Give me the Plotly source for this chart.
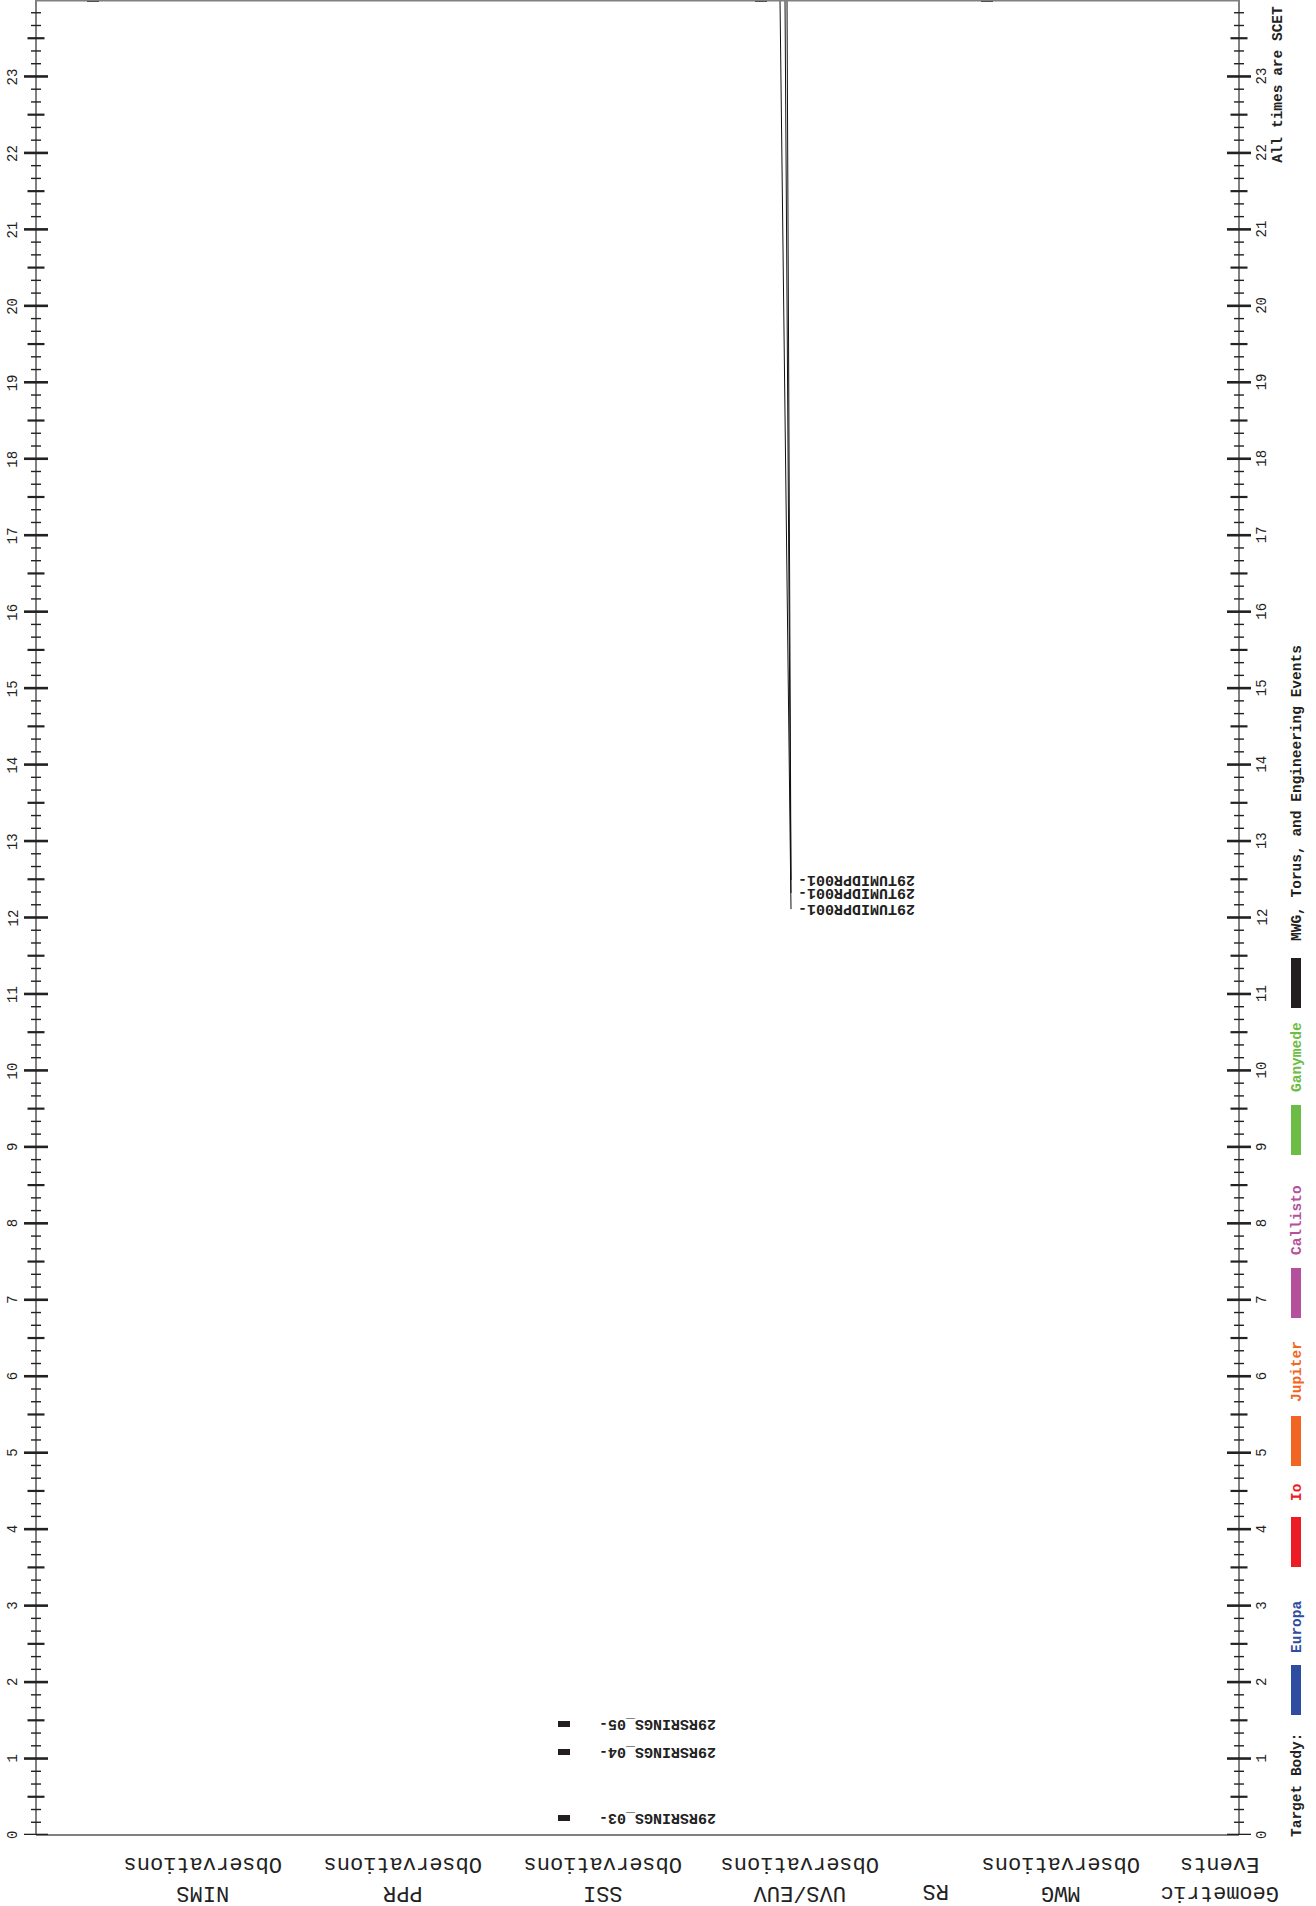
import plotly.graph_objects as go

# ---------------- data ----------------
hour_ticks = list(range(0, 24))

obs_ids = ["29RSRINGS_03", "29RSRINGS_04", "29RSRINGS_05"]
obs_lane = ["SSI", "SSI", "SSI"]
obs_start = [0.18, 1.05, 1.41]
obs_end = [0.26, 1.12, 1.49]

edge_lane = ["NIMS", "UVS/EUV", "MWG"]
edge_start = [23.98, 23.98, 23.98]
edge_end = [24.0, 24.0, 24.0]

uvs_ids = ["29TUMIDPR001", "29TUMIDPR001", "29TUMIDPR001"]
uvs_label_hour = [12.11, 12.32, 12.49]

columns = ["NIMS<br>Observations", "PPR<br>Observations", "SSI<br>Observations",
           "UVS/EUV<br>Observations", "RS", "MWG<br>Observations", "Geometric<br>Events"]

legend_names = ["Europa", "Io", "Jupiter", "Callisto", "Ganymede",
                "MWG, Torus, and Engineering Events"]
legend_colors = ["#2E4DA0", "#ED1C24", "#F26522", "#B5519C", "#6CBD45", "#231F20"]

# ---------------- layout constants (page pixels) ----------------
W, H = 1316, 1906
L, R, T, B = 36, 77, 0, 71
X0, X1 = L, W - R
PH = H - T - B
lane_x = {"NIMS": 92.5, "SSI": 564, "UVS/EUV": 761, "MWG": 987}
col_x = [203, 403, 603, 800, 936, 1061, 1220]
uvs_top_x = [780, 785, 787]
uvs_end_x = 791
legend_bar_y = [1690, 1542, 1441, 1293, 1130, 983]
legend_txt_y = [1627, 1492, 1372, 1220, 1057, 793]
FONT = "Liberation Mono, Courier New, monospace"


def px(xp):
    return (xp - X0) / (X1 - X0)


def py(yp):
    return 1 - (yp - T) / PH


fig = go.Figure()

# observation bars
bx = [lane_x[l] for l in obs_lane] + [lane_x[l] for l in edge_lane]
bs = obs_start + edge_start
be = obs_end + edge_end
fig.add_trace(go.Bar(x=bx, y=[e - s for s, e in zip(bs, be)], base=bs, width=12,
                     marker=dict(color="#231F20", line=dict(width=0)),
                     hoverinfo="skip", showlegend=False))

# UVS leader lines
for tx, hy in zip(uvs_top_x, uvs_label_hour):
    fig.add_trace(go.Scatter(x=[tx, uvs_end_x], y=[24, hy], mode="lines",
                             line=dict(color="#111", width=1), hoverinfo="skip",
                             showlegend=False))

ann = []
shapes = []

# observation labels (upside down)
for oid, l, s, e in zip(obs_ids, obs_lane, obs_start, obs_end):
    ann.append(dict(x=lane_x[l] + 33, y=(s + e) / 2, xref="x", yref="y",
                    text="<b>%s-</b>" % oid, textangle=180, showarrow=False,
                    xanchor="left", yanchor="middle",
                    font=dict(family=FONT, size=15, color="#222")))
for oid, hy in zip(uvs_ids, uvs_label_hour):
    ann.append(dict(x=uvs_end_x + 5, y=hy, xref="x", yref="y",
                    text="<b>%s-</b>" % oid, textangle=180, showarrow=False,
                    xanchor="left", yanchor="middle",
                    font=dict(family=FONT, size=15, color="#222")))

# bottom column labels
for c, cx in zip(columns, col_x):
    two = "<br>" in c
    ann.append(dict(x=px(cx), y=0, xref="paper", yref="paper", text=c,
                    textangle=180, showarrow=False, xanchor="center",
                    yanchor="middle", yshift=-43 if two else -56,
                    font=dict(family=FONT, size=22, color="#222")))

# time axis ticks + labels
for side, ax in (("L", X0), ("R", X1)):
    for h in range(0, 24):
        for k in range(6):
            t = h + k / 6
            if k == 0:
                half, w = 12, 2.6
            elif k == 3:
                half, w = 8.5, 2.2
            else:
                half, w = 5, 1.4
            shapes.append(dict(type="line", xref="paper", yref="y",
                               x0=px(ax - half), x1=px(ax + half), y0=t, y1=t,
                               line=dict(color="#222", width=w)))
    for h in hour_ticks:
        ann.append(dict(x=px(ax - 23 if side == "L" else ax + 23), y=h,
                        xref="paper", yref="y", text=str(h), textangle=-90,
                        showarrow=False, xanchor="center", yanchor="middle",
                        font=dict(family=FONT, size=14, color="#222")))

# frame lines
frame = [(X0, 0, X0, PH), (X1, 0, X1, PH), (X0, 0.5, X1, 0.5), (X0, PH, X1, PH)]
for x0, y0, x1, y1 in frame:
    shapes.insert(0, dict(type="line", xref="paper", yref="paper",
                          x0=px(x0), x1=px(x1), y0=py(y0), y1=py(y1),
                          line=dict(color="#808080", width=2)))

ann.append(dict(x=px(1278), y=22.89, xref="paper", yref="y",
                text="<b>All times are SCET</b>", textangle=-90, showarrow=False,
                xanchor="center", yanchor="middle",
                font=dict(family=FONT, size=14.5, color="#222")))

# legend
ann.append(dict(x=px(1297), y=py(1785), xref="paper", yref="paper",
                text="<b>Target Body:</b>", textangle=-90, showarrow=False,
                xanchor="center", yanchor="middle",
                font=dict(family=FONT, size=14.5, color="#222")))
for name, col, by, tyy in zip(legend_names, legend_colors, legend_bar_y, legend_txt_y):
    shapes.append(dict(type="rect", xref="paper", yref="paper",
                       x0=px(1291), x1=px(1301), y0=py(by - 25), y1=py(by + 25),
                       fillcolor=col, line=dict(width=0)))
    ann.append(dict(x=px(1297), y=py(tyy), xref="paper", yref="paper",
                    text="<b>%s</b>" % name, textangle=-90, showarrow=False,
                    xanchor="center", yanchor="middle",
                    font=dict(family=FONT, size=14.5, color=col)))

fig.update_layout(
    width=W, height=H, margin=dict(l=L, r=R, t=T, b=B, pad=0),
    paper_bgcolor="white", plot_bgcolor="white", showlegend=False,
    xaxis=dict(range=[X0, X1], visible=False, fixedrange=True),
    yaxis=dict(range=[0, 24], visible=False, fixedrange=True),
    annotations=ann, shapes=shapes, bargap=0,
)

fig.write_html("out.html", include_plotlyjs=True,
               config={"displayModeBar": False},
               post_script="document.body.style.margin='0';document.body.style.overflow='hidden';")
